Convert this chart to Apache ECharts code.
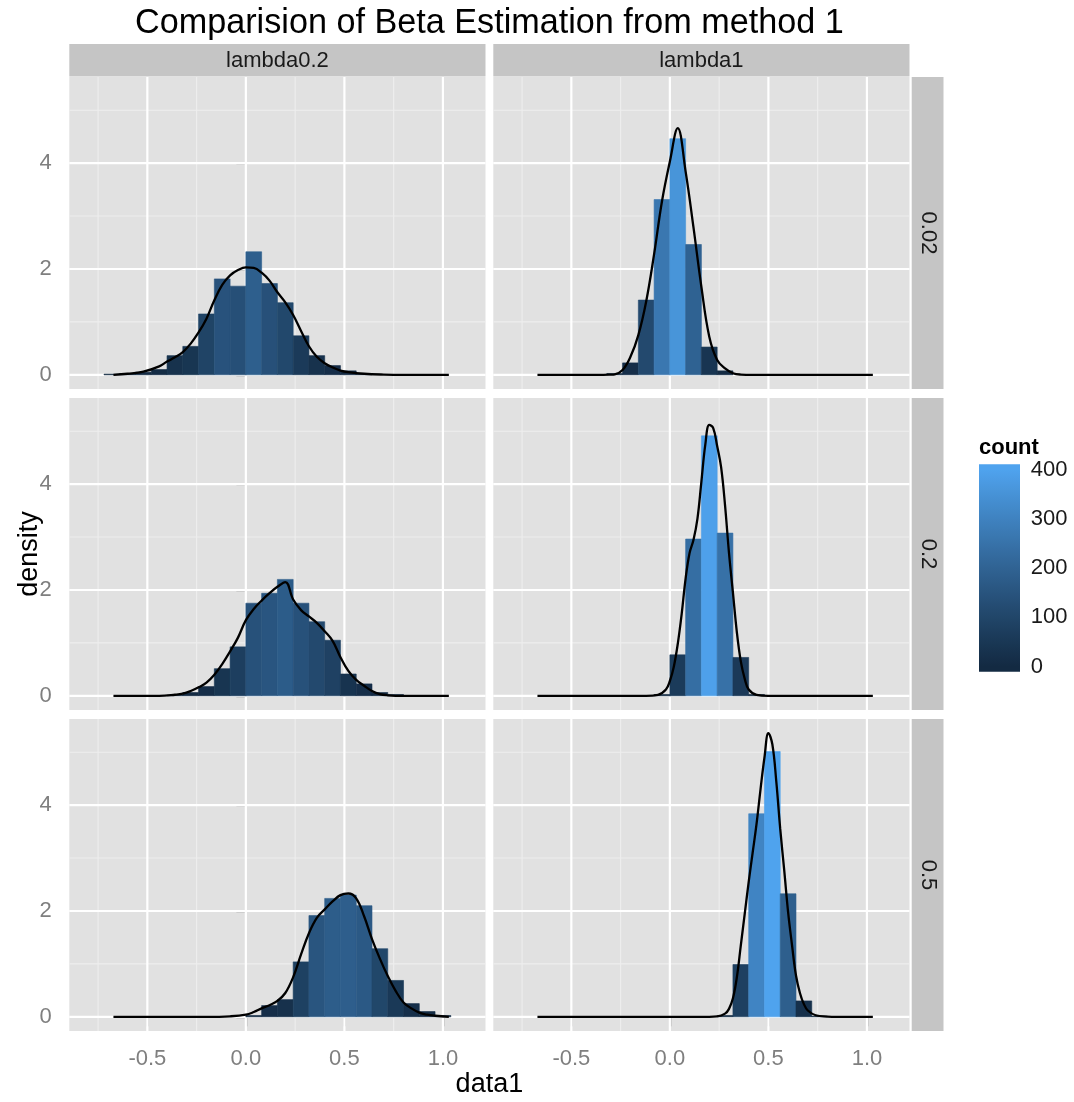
<!DOCTYPE html>
<html>
<head>
<meta charset="utf-8">
<script src="https://cdn.jsdelivr.net/npm/echarts@6/dist/echarts.min.js"></script>
<style>
  html, body { margin: 0; padding: 0; background: #ffffff; }
  #chart { width: 1074px; height: 1102px; }
</style>
</head>
<body>
<div id="chart"></div>
<script>
// ---- data -------------------------------------------------------------
const chartTitle = 'Comparision of Beta Estimation from method 1';
const xTitle = 'data1';
const yTitle = 'density';
const fillTitle = 'count';

const colLabels = ['lambda0.2', 'lambda1'];
const rowLabels = ['0.02', '0.2', '0.5'];

// histogram bin edges (shared by all facets)
const binEdges = [-0.80, -0.72, -0.64, -0.56, -0.48, -0.40, -0.32, -0.24, -0.16, -0.08,
                  0.00, 0.08, 0.16, 0.24, 0.32, 0.40, 0.48, 0.56, 0.64, 0.72,
                  0.80, 0.88, 0.96, 1.04, 1.12];

// counts per bin, one array per facet (column lambda, row value)
const counts_lambda02_002 = [0, 1, 2, 4, 8, 29, 43, 92, 145, 134, 186, 138, 109, 59, 29, 14, 6, 1, 0, 0, 0, 0, 0, 0];
const counts_lambda1_002  = [0, 0, 0, 0, 0, 0, 2, 18, 113, 265, 357, 197, 42, 6, 0, 0, 0, 0, 0, 0, 0, 0, 0, 0];
const counts_lambda02_02  = [0, 0, 0, 0, 0, 1, 5, 14, 41, 74, 140, 155, 176, 140, 112, 84, 33, 18, 5, 2, 0, 0, 0, 0];
const counts_lambda1_02   = [0, 0, 0, 0, 0, 0, 0, 0, 0, 2, 62, 237, 393, 246, 58, 2, 0, 0, 0, 0, 0, 0, 0, 0];
const counts_lambda02_05  = [0, 0, 0, 0, 0, 0, 0, 0, 0, 0, 2, 17, 26, 83, 153, 179, 184, 168, 103, 55, 20, 8, 2, 0];
const counts_lambda1_05   = [0, 0, 0, 0, 0, 0, 0, 0, 0, 0, 0, 0, 0, 2, 79, 307, 401, 186, 24, 1, 0, 0, 0, 0];

// kernel density estimate, [x, density]
const density_lambda02_002 = [[-0.672, 0], [-0.60, 0.02], [-0.52, 0.06], [-0.44, 0.16], [-0.40, 0.25],
  [-0.36, 0.33], [-0.32, 0.43], [-0.28, 0.59], [-0.24, 0.80], [-0.20, 1.06], [-0.16, 1.41],
  [-0.12, 1.70], [-0.08, 1.88], [-0.04, 1.98], [0.00, 2.03], [0.04, 2.02], [0.08, 1.93],
  [0.12, 1.78], [0.16, 1.56], [0.20, 1.37], [0.24, 1.13], [0.28, 0.83], [0.32, 0.54],
  [0.36, 0.34], [0.40, 0.22], [0.44, 0.14], [0.48, 0.08], [0.52, 0.05], [0.60, 0.02],
  [0.70, 0.005], [0.80, 0], [1.03, 0]];
const density_lambda1_002 = [[-0.672, 0], [-0.36, 0], [-0.30, 0.005], [-0.28, 0.01], [-0.24, 0.09],
  [-0.20, 0.34], [-0.16, 0.75], [-0.12, 1.39], [-0.08, 2.28], [-0.04, 3.28], [0.00, 4.03],
  [0.04, 4.66], [0.08, 3.84], [0.12, 2.78], [0.16, 1.66], [0.20, 0.72], [0.24, 0.28],
  [0.28, 0.12], [0.32, 0.03], [0.36, 0.005], [0.42, 0], [1.03, 0]];
const density_lambda02_02 = [[-0.672, 0], [-0.44, 0], [-0.36, 0.02], [-0.32, 0.04], [-0.28, 0.09],
  [-0.24, 0.16], [-0.20, 0.25], [-0.16, 0.40], [-0.12, 0.60], [-0.08, 0.84], [-0.04, 1.10],
  [0.00, 1.43], [0.04, 1.64], [0.08, 1.80], [0.12, 1.94], [0.16, 2.06], [0.20, 2.15],
  [0.24, 1.82], [0.28, 1.62], [0.32, 1.50], [0.36, 1.38], [0.40, 1.22], [0.44, 1.04],
  [0.48, 0.73], [0.52, 0.47], [0.56, 0.30], [0.60, 0.19], [0.64, 0.09], [0.68, 0.03],
  [0.72, 0.01], [0.80, 0], [1.03, 0]];
const density_lambda1_02 = [[-0.672, 0], [-0.12, 0], [-0.06, 0.02], [-0.02, 0.12], [0.00, 0.28],
  [0.02, 0.55], [0.04, 0.98], [0.06, 1.55], [0.08, 2.22], [0.10, 2.70], [0.12, 2.95],
  [0.14, 3.35], [0.16, 4.05], [0.18, 4.75], [0.20, 5.12], [0.22, 5.06], [0.24, 4.72],
  [0.26, 4.32], [0.28, 3.60], [0.30, 2.70], [0.32, 1.95], [0.34, 1.20], [0.36, 0.65],
  [0.38, 0.32], [0.40, 0.12], [0.44, 0.02], [0.50, 0], [1.03, 0]];
const density_lambda02_05 = [[-0.672, 0], [-0.20, 0], [-0.08, 0.01], [0.00, 0.04], [0.04, 0.09],
  [0.08, 0.16], [0.12, 0.22], [0.16, 0.30], [0.20, 0.45], [0.24, 0.75], [0.28, 1.18],
  [0.32, 1.58], [0.36, 1.87], [0.40, 2.03], [0.44, 2.18], [0.48, 2.30], [0.52, 2.33],
  [0.56, 2.24], [0.60, 1.90], [0.64, 1.47], [0.68, 1.10], [0.72, 0.77], [0.76, 0.49],
  [0.80, 0.27], [0.84, 0.16], [0.88, 0.08], [0.92, 0.04], [0.96, 0.02], [1.03, 0]];
const density_lambda1_05 = [[-0.672, 0], [0.15, 0], [0.24, 0.01], [0.28, 0.06], [0.30, 0.15],
  [0.32, 0.35], [0.34, 0.75], [0.36, 1.35], [0.38, 1.95], [0.40, 2.55], [0.42, 3.10],
  [0.44, 3.65], [0.46, 4.30], [0.48, 4.90], [0.50, 5.36], [0.52, 5.15], [0.54, 4.45],
  [0.56, 3.55], [0.58, 2.78], [0.60, 1.98], [0.62, 1.35], [0.64, 0.78], [0.66, 0.45],
  [0.68, 0.24], [0.70, 0.12], [0.74, 0.03], [0.80, 0.005], [0.85, 0], [1.03, 0]];

// axis breaks
const xBreaks = [-0.5, 0.0, 0.5, 1.0];
const xMinorBreaks = [-0.75, -0.25, 0.25, 0.75];
const yBreaks = [0, 2, 4];
const yMinorBreaks = [1, 3, 5];
const fillBreaks = [0, 100, 200, 300, 400];

// ---- look -------------------------------------------------------------
const FONT = '"Liberation Sans", Arial, Helvetica, sans-serif';
const GREY50 = '#7F7F7F';
const PANEL_BG = '#E1E1E1';
const STRIP_BG = '#C5C5C5';
const MINOR_GRID = '#EEEEEE';
const LOW_FILL = '#132A42';
const HIGH_FILL = '#4FA3EE';

const layout = {
  colLeft: [69.3, 493.3], colWidth: 416.2,
  rowTop: [77, 398, 719], rowHeight: 312,
  stripTop: 44, stripHeight: 32.5,
  rStripLeft: 911.7, rStripWidth: 31.8,
  legendBar: { left: 979, top: 464.3, width: 41, height: 207.4 },
  colourbarBins: 20
};

// ---- Lab colour ramp (low -> high) ----------------------------------------
function hexToLab(hex) {
  const v = [1, 3, 5].map(i => parseInt(hex.substr(i, 2), 16) / 255)
    .map(c => c <= 0.04045 ? c / 12.92 : Math.pow((c + 0.055) / 1.055, 2.4));
  const X = (0.4124564 * v[0] + 0.3575761 * v[1] + 0.1804375 * v[2]) / 0.95047;
  const Y = (0.2126729 * v[0] + 0.7151522 * v[1] + 0.0721750 * v[2]);
  const Z = (0.0193339 * v[0] + 0.1191920 * v[1] + 0.9503041 * v[2]) / 1.08883;
  const f = t => t > 0.008856 ? Math.cbrt(t) : 7.787 * t + 16 / 116;
  const fx = f(X), fy = f(Y), fz = f(Z);
  return [116 * fy - 16, 500 * (fx - fy), 200 * (fy - fz)];
}
function labToHex(lab) {
  const fy = (lab[0] + 16) / 116, fx = fy + lab[1] / 500, fz = fy - lab[2] / 200;
  const inv = t => t * t * t > 0.008856 ? t * t * t : (t - 16 / 116) / 7.787;
  const X = inv(fx) * 0.95047, Y = inv(fy), Z = inv(fz) * 1.08883;
  const lin = [
    3.2404542 * X - 1.5371385 * Y - 0.4985314 * Z,
    -0.9692660 * X + 1.8760108 * Y + 0.0415560 * Z,
    0.0556434 * X - 0.2040259 * Y + 1.0572252 * Z
  ];
  return '#' + lin.map(c => {
    const s = c <= 0.0031308 ? 12.92 * c : 1.055 * Math.pow(c, 1 / 2.4) - 0.055;
    const n = Math.max(0, Math.min(255, Math.round(s * 255)));
    return n.toString(16).padStart(2, '0');
  }).join('');
}
function labRamp(n) {
  const a = hexToLab(LOW_FILL), b = hexToLab(HIGH_FILL);
  const out = [];
  for (let i = 0; i < n; i++) {
    const t = i / (n - 1);
    out.push(labToHex([0, 1, 2].map(k => a[k] + (b[k] - a[k]) * t)));
  }
  return out;
}
const fillStops = labRamp(21);

// ---- assemble facets ----------------------------------------------------
const facets = [
  { row: 0, col: 0, counts: counts_lambda02_002, curve: density_lambda02_002 },
  { row: 0, col: 1, counts: counts_lambda1_002,  curve: density_lambda1_002 },
  { row: 1, col: 0, counts: counts_lambda02_02,  curve: density_lambda02_02 },
  { row: 1, col: 1, counts: counts_lambda1_02,   curve: density_lambda1_02 },
  { row: 2, col: 0, counts: counts_lambda02_05,  curve: density_lambda02_05 },
  { row: 2, col: 1, counts: counts_lambda1_05,   curve: density_lambda1_05 }
];

// bars: [xmin, xmax, density, count]
facets.forEach(f => {
  const n = f.counts.reduce((s, c) => s + c, 0);
  f.bars = [];
  f.counts.forEach((c, i) => {
    if (c > 0) {
      const w = binEdges[i + 1] - binEdges[i];
      f.bars.push([binEdges[i], binEdges[i + 1], c / (n * w), c]);
    }
  });
});

const maxCount = Math.max(...facets.map(f => Math.max(...f.counts)));
let densTop = 0;
facets.forEach(f => {
  f.curve.forEach(p => { densTop = Math.max(densTop, p[1]); });
  f.bars.forEach(b => { densTop = Math.max(densTop, b[2]); });
});
const xLo = binEdges[0], xHi = binEdges[binEdges.length - 1];
const xMin = xLo - 0.05 * (xHi - xLo), xMax = xHi + 0.05 * (xHi - xLo);
const yMin = -0.05 * densTop, yMax = 1.05 * densTop;

// gridline records: [value, horizontal?, major?]
const gridLineData = [];
xMinorBreaks.forEach(v => gridLineData.push([v, 0, 0]));
yMinorBreaks.forEach(v => gridLineData.push([v, 1, 0]));
xBreaks.forEach(v => gridLineData.push([v, 0, 1]));
yBreaks.forEach(v => gridLineData.push([v, 1, 1]));

function renderGridLine(params, api) {
  const v = api.value(0), horiz = api.value(1), major = api.value(2);
  const cs = params.coordSys;
  let shape;
  if (horiz) {
    const p = api.coord([0, v]);
    shape = { x1: cs.x, y1: p[1], x2: cs.x + cs.width, y2: p[1] };
  } else {
    const p = api.coord([v, 0]);
    shape = { x1: p[0], y1: cs.y, x2: p[0], y2: cs.y + cs.height };
  }
  return {
    type: 'line', shape: shape,
    style: { stroke: major ? '#FFFFFF' : MINOR_GRID, lineWidth: major ? 2.2 : 1.1 }
  };
}

function renderBar(params, api) {
  const top = api.coord([api.value(0), api.value(2)]);
  const base = api.coord([api.value(1), 0]);
  const c = api.visual('color');
  return {
    type: 'rect',
    shape: { x: top[0], y: top[1], width: base[0] - top[0], height: base[1] - top[1] },
    style: { fill: c, stroke: c, lineWidth: 0.6 }
  };
}

const grids = [], xAxes = [], yAxes = [], series = [], histSeriesIdx = [];
facets.forEach((f, i) => {
  const bottomRow = f.row === rowLabels.length - 1;
  const leftCol = f.col === 0;
  grids.push({
    left: layout.colLeft[f.col], top: layout.rowTop[f.row],
    width: layout.colWidth, height: layout.rowHeight,
    show: true, backgroundColor: PANEL_BG, borderWidth: 0
  });
  xAxes.push({
    gridIndex: i, type: 'value', min: xMin, max: xMax,
    axisLine: { show: false }, splitLine: { show: false },
    axisTick: { show: bottomRow, customValues: xBreaks, length: 9.5,
                lineStyle: { color: GREY50, width: 1.4 } },
    axisLabel: { show: bottomRow, customValues: xBreaks, margin: 17,
                 color: GREY50, fontSize: 22, fontFamily: FONT,
                 formatter: v => v.toFixed(1) }
  });
  yAxes.push({
    gridIndex: i, type: 'value', min: yMin, max: yMax,
    axisLine: { show: false }, splitLine: { show: false },
    axisTick: { show: leftCol, customValues: yBreaks, length: 9.5,
                lineStyle: { color: GREY50, width: 1.4 } },
    axisLabel: { show: leftCol, customValues: yBreaks, margin: 17.5,
                 color: GREY50, fontSize: 22, fontFamily: FONT,
                 formatter: v => String(v) }
  });
  series.push({
    type: 'custom', xAxisIndex: i, yAxisIndex: i, z: 1, silent: true,
    renderItem: renderGridLine, data: gridLineData
  });
  histSeriesIdx.push(series.length);
  series.push({
    type: 'custom', xAxisIndex: i, yAxisIndex: i, z: 2, silent: true,
    renderItem: renderBar, encode: { x: [0, 1], y: 2 },
    data: f.bars
  });
  series.push({
    type: 'line', xAxisIndex: i, yAxisIndex: i, z: 3, silent: true,
    data: f.curve, smooth: 0.4, showSymbol: false, symbol: 'none',
    lineStyle: { color: '#000000', width: 2.3 }
  });
});

// colour bar guide
const half = 0.5 * maxCount / (layout.colourbarBins - 1);
const barLo = -half, barHi = maxCount + half;
const lb = layout.legendBar;
grids.push({ left: lb.left, top: lb.top, width: lb.width, height: lb.height, show: false });
const legendGrid = grids.length - 1;
xAxes.push({ gridIndex: legendGrid, type: 'value', min: 0, max: 1, show: false });
const legendTick = { show: true, inside: true, length: 8, customValues: fillBreaks,
                     lineStyle: { color: 'rgba(255,255,255,0.7)', width: 1.3 } };
yAxes.push({
  gridIndex: legendGrid, type: 'value', min: barLo, max: barHi, position: 'right',
  axisLine: { show: false }, splitLine: { show: false }, axisTick: legendTick,
  axisLabel: { customValues: fillBreaks, margin: 10.7, color: '#1A1A1A',
               fontSize: 22, fontFamily: FONT }
});
yAxes.push({
  gridIndex: legendGrid, type: 'value', min: barLo, max: barHi, position: 'left',
  axisLine: { show: false }, splitLine: { show: false }, axisTick: legendTick,
  axisLabel: { show: false }
});
const legendStops = [{ offset: 0, color: fillStops[0] }];
fillStops.forEach((c, k) => {
  const v = maxCount * k / (fillStops.length - 1);
  legendStops.push({ offset: (v - barLo) / (barHi - barLo), color: c });
});
legendStops.push({ offset: 1, color: fillStops[fillStops.length - 1] });
series.push({
  type: 'custom', xAxisIndex: legendGrid, yAxisIndex: yAxes.length - 2, z: 1, silent: true,
  data: [[0.5, maxCount / 2]],
  renderItem: (params) => {
    const cs = params.coordSys;
    return {
      type: 'rect', shape: { x: cs.x, y: cs.y, width: cs.width, height: cs.height },
      style: { fill: new echarts.graphic.LinearGradient(0, 1, 0, 0, legendStops) }
    };
  }
});

// strips and titles
const graphics = [];
colLabels.forEach((t, c) => {
  graphics.push({ type: 'rect', silent: true,
    shape: { x: layout.colLeft[c], y: layout.stripTop, width: layout.colWidth, height: layout.stripHeight },
    style: { fill: STRIP_BG } });
  graphics.push({ type: 'text', silent: true,
    x: layout.colLeft[c] + layout.colWidth / 2, y: layout.stripTop + layout.stripHeight / 2 + 1,
    style: { text: t, fill: '#1A1A1A', font: '22px ' + FONT, align: 'center', verticalAlign: 'middle' } });
});
rowLabels.forEach((t, r) => {
  graphics.push({ type: 'rect', silent: true,
    shape: { x: layout.rStripLeft, y: layout.rowTop[r], width: layout.rStripWidth, height: layout.rowHeight },
    style: { fill: STRIP_BG } });
  graphics.push({ type: 'text', silent: true, rotation: -Math.PI / 2,
    x: layout.rStripLeft + layout.rStripWidth / 2, y: layout.rowTop[r] + layout.rowHeight / 2,
    style: { text: t, fill: '#1A1A1A', font: '22px ' + FONT, align: 'center', verticalAlign: 'middle' } });
});
const plotCentreX = (layout.colLeft[0] + layout.colLeft[1] + layout.colWidth) / 2;
const plotCentreY = (layout.rowTop[0] + layout.rowTop[2] + layout.rowHeight) / 2;
graphics.push({ type: 'text', silent: true, x: plotCentreX, y: 24,
  style: { text: chartTitle, fill: '#000000', font: '34.2px ' + FONT, align: 'center', verticalAlign: 'middle' } });
graphics.push({ type: 'text', silent: true, x: plotCentreX, y: 1085,
  style: { text: xTitle, fill: '#000000', font: '27px ' + FONT, align: 'center', verticalAlign: 'middle' } });
graphics.push({ type: 'text', silent: true, x: 30, y: plotCentreY, rotation: Math.PI / 2,
  style: { text: yTitle, fill: '#000000', font: '27px ' + FONT, align: 'center', verticalAlign: 'middle' } });
graphics.push({ type: 'text', silent: true, x: lb.left, y: 448,
  style: { text: fillTitle, fill: '#000000', font: 'bold 22px ' + FONT, align: 'left', verticalAlign: 'middle' } });

const chart = echarts.init(document.getElementById('chart'), null, { renderer: 'canvas' });
chart.setOption({
  animation: false,
  backgroundColor: '#ffffff',
  grid: grids,
  xAxis: xAxes,
  yAxis: yAxes,
  visualMap: {
    type: 'continuous', show: false, min: 0, max: maxCount, dimension: 3,
    seriesIndex: histSeriesIdx, inRange: { color: fillStops }
  },
  series: series,
  graphic: graphics
});
</script>
</body>
</html>
